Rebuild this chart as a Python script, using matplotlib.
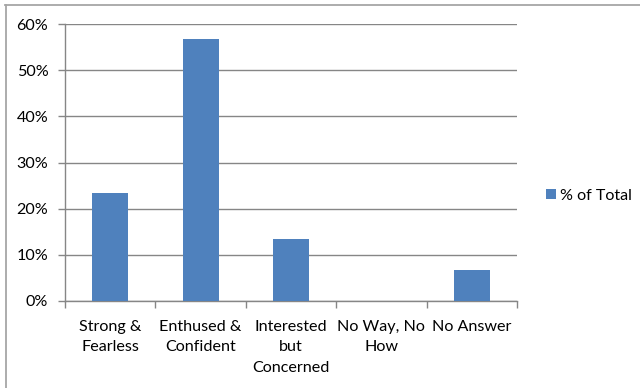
import matplotlib
matplotlib.use("Agg")
import matplotlib.pyplot as plt
from matplotlib.lines import Line2D
from matplotlib.ticker import PercentFormatter, FixedLocator

plt.rcParams['font.family'] = ['Lato', 'DejaVu Sans']

categories = ["Strong &\nFearless", "Enthused &\nConfident", "Interested\nbut\nConcerned",
              "No Way, No\nHow", "No Answer"]
share_of_total = [23.33, 56.67, 13.33, 0.0, 6.67]
series_name = "% of Total"
y_ticks = [0, 10, 20, 30, 40, 50, 60]

W, H = 640, 388
fig = plt.figure(figsize=(W / 100, H / 100), dpi=100)
ax = fig.add_axes([65 / W, 1 - 301 / H, (517 - 65) / W, (301 - 24) / H])

bar_color = "#4F81BD"
grid_color = "#868686"
fs = 11.6

x = list(range(len(categories)))
ax.bar(x, share_of_total, width=0.4, color=bar_color, label=series_name, zorder=3)

ax.set_xlim(-0.5, len(categories) - 0.5)
ax.set_ylim(0, 60)
ax.yaxis.set_major_locator(FixedLocator(y_ticks))
ax.yaxis.set_major_formatter(PercentFormatter(decimals=0))
ax.grid(axis='y', color=grid_color, linewidth=1.0, zorder=0)

ax.set_xticks(x)
ax.set_xticklabels(categories, fontsize=fs, linespacing=1.6, color="#000000")
ax.set_xticks([i - 0.5 for i in range(len(categories) + 1)], minor=True)
ax.tick_params(axis='x', which='major', length=0, pad=13.5)
ax.tick_params(axis='x', which='minor', length=5, color=grid_color, width=1.0)
ax.tick_params(axis='y', which='major', length=5, color=grid_color, width=1.0,
               labelsize=fs, pad=7)

for side in ('top', 'right'):
    ax.spines[side].set_visible(False)
for side in ('left', 'bottom'):
    ax.spines[side].set_color(grid_color)
    ax.spines[side].set_linewidth(1.0)

fig.legend(loc='center left', bbox_to_anchor=(546 / W, 1 - 196 / H), frameon=False,
           fontsize=fs, handlelength=0.6, handleheight=0.6, handletextpad=0.3,
           borderaxespad=0, borderpad=0)

# outer chart frame
frame_color = "#A6A6A6"
fig.add_artist(Line2D([5 / W, 1.0], [1 - 4.5 / H, 1 - 4.5 / H], color=frame_color,
                      linewidth=1.3, transform=fig.transFigure))
fig.add_artist(Line2D([5.5 / W, 5.5 / W], [0.0, 1 - 4.5 / H], color=frame_color,
                      linewidth=1.3, transform=fig.transFigure))

fig.savefig("out.png", dpi=100, facecolor="white")
